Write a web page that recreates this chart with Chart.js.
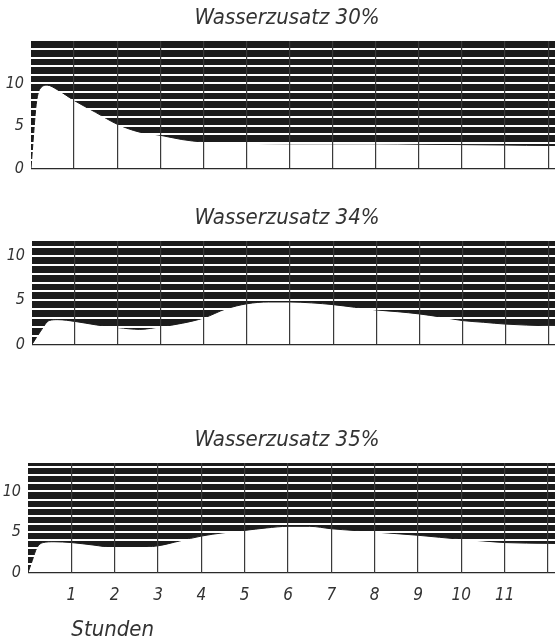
<!DOCTYPE html>
<html>
<head>
<meta charset="utf-8">
<script src="https://cdn.jsdelivr.net/npm/chart.js@4.4.0/dist/chart.umd.min.js"></script>
<style>
  html, body { margin: 0; padding: 0; background: #fff; overflow: hidden; }
  body { width: 555px; height: 639px; position: relative; }
  canvas { position: absolute; left: 0; }
</style>
</head>
<body>
<canvas id="c30" width="574" height="185" style="top:0px"></canvas>
<canvas id="c34" width="574" height="161" style="top:200px"></canvas>
<canvas id="c35" width="574" height="217" style="top:422px"></canvas>
<script>
// hours / values
var hours30  = [0, 0.06, 0.12, 0.2, 0.38, 0.6, 1, 1.5, 2, 2.5, 3, 3.5, 4, 4.5, 5, 6, 7, 8, 9, 10, 11, 12, 13];
var values30 = [0, 4.0, 7.5, 9.3, 9.8, 9.3, 8.0, 6.6, 5.2, 4.3, 3.9, 3.4, 3.1, 3.0, 2.95, 2.9, 2.9, 2.9, 2.85, 2.8, 2.75, 2.7, 2.7];

var hours34  = [0, 0.2, 0.4, 0.6, 1, 1.5, 2, 2.5, 3, 3.5, 4, 4.5, 5, 5.5, 6, 6.5, 7, 7.5, 8, 8.5, 9, 9.5, 10, 10.5, 11, 12, 13];
var values34 = [0, 1.5, 2.7, 2.8, 2.6, 2.2, 1.9, 1.7, 2.0, 2.4, 3.0, 4.0, 4.6, 4.8, 4.8, 4.7, 4.5, 4.2, 3.9, 3.7, 3.45, 3.1, 2.7, 2.5, 2.3, 2.1, 2.0];

var hours35  = [0, 0.1, 0.2, 0.35, 0.6, 1, 1.5, 2, 2.5, 3, 3.5, 4, 4.5, 5, 5.5, 6, 6.5, 7, 7.5, 8, 8.5, 9, 9.5, 10, 10.5, 11, 12, 13];
var values35 = [0, 1.5, 3.0, 3.7, 3.8, 3.7, 3.4, 3.1, 3.1, 3.3, 3.9, 4.5, 4.9, 5.2, 5.5, 5.7, 5.7, 5.4, 5.2, 5.0, 4.8, 4.6, 4.35, 4.1, 3.9, 3.7, 3.6, 3.5];

var titles = ['Wasserzusatz 30%', 'Wasserzusatz 34%', 'Wasserzusatz 35%'];
var yTickLabels = [0, 5, 10];
var xTickLabels = ['1', '2', '3', '4', '5', '6', '7', '8', '9', '10', '11'];
var xTitle = 'Stunden';

var FONT = '"Liberation Sans Narrow", "DejaVu Sans Condensed", sans-serif';
var INK = '#1c1c1c';

// "Stunden" sits under the first ticks, not centred
var stundenLabel = {
  id: 'stunden',
  afterDraw: function(chart) {
    var ctx = chart.ctx, xs = chart.scales.x;
    ctx.save();
    ctx.font = 'italic 22px ' + FONT;
    ctx.fillStyle = '#333';
    ctx.textBaseline = 'middle';
    ctx.fillText(xTitle, xs.getPixelForValue(1), 208);
    ctx.restore();
  }
};

// one tick per whole unit, whatever the height of the panel
function everyUnit(s) {
  var t = [];
  for (var v = Math.ceil(s.min); v <= s.max; v++) t.push({value: v});
  s.ticks = t;
}

function makePanel(id, title, hours, values, yMax, left, showX) {
  var pts = hours.map(function(h, i) { return {x: h, y: values[i]}; });
  return new Chart(document.getElementById(id), {
    type: 'line',
    data: {
      datasets: [{
        data: pts,
        fill: 'end',
        backgroundColor: INK,
        borderColor: INK,
        borderWidth: 1,
        pointRadius: 0,
        cubicInterpolationMode: 'monotone'
      }]
    },
    plugins: showX ? [stundenLabel] : [],
    options: {
      responsive: false,
      animation: false,
      devicePixelRatio: 1,
      layout: { padding: { left: 0, right: 0, top: 0, bottom: showX ? 20 : 10 } },
      plugins: {
        legend: { display: false },
        tooltip: { enabled: false },
        title: {
          display: true,
          text: title,
          color: '#333',
          font: { family: FONT, size: 22, style: 'italic', weight: 'normal', lineHeight: 1.2 },
          padding: { top: 5, bottom: 9.6 }
        }
      },
      scales: {
        x: {
          type: 'linear',
          min: 0,
          max: 12.6,
          afterBuildTicks: everyUnit,
          border: { display: false },
          grid: {
            z: 2,
            drawTicks: false,
            color: function(c) { return c.tick.value === 0 ? 'rgba(0,0,0,0)' : '#3a3a3a'; },
            lineWidth: 1.2
          },
          ticks: {
            display: showX,
            autoSkip: false,
            maxRotation: 0,
            padding: 13,
            color: '#333',
            font: { family: FONT, size: 17, style: 'italic' },
            callback: function(v) {
              return (v >= 1 && v <= xTickLabels.length) ? xTickLabels[v - 1] : '';
            }
          }
        },
        y: {
          min: 0,
          max: yMax,
          afterBuildTicks: everyUnit,
          afterFit: function(s) { s.width = left; },
          border: { display: false },
          grid: {
            z: 1,
            drawTicks: false,
            color: function(c) {
              if (c.tick.value === 0) return '#2a2a2a';
              return c.tick.value >= yMax ? 'rgba(0,0,0,0)' : '#ffffff';
            },
            lineWidth: function(c) { return c.tick.value === 0 ? 1.2 : 2; }
          },
          ticks: {
            autoSkip: false,
            padding: 7,
            color: '#333',
            font: { family: FONT, size: 16, style: 'italic' },
            callback: function(v) { return yTickLabels.indexOf(v) >= 0 ? String(v) : ''; }
          }
        }
      }
    }
  });
}

makePanel('c30', titles[0], hours30, values30, 15, 31, false);
makePanel('c34', titles[1], hours34, values34, 11.7, 32, false);
makePanel('c35', titles[2], hours35, values35, 13.5, 28, true);
</script>
</body>
</html>
